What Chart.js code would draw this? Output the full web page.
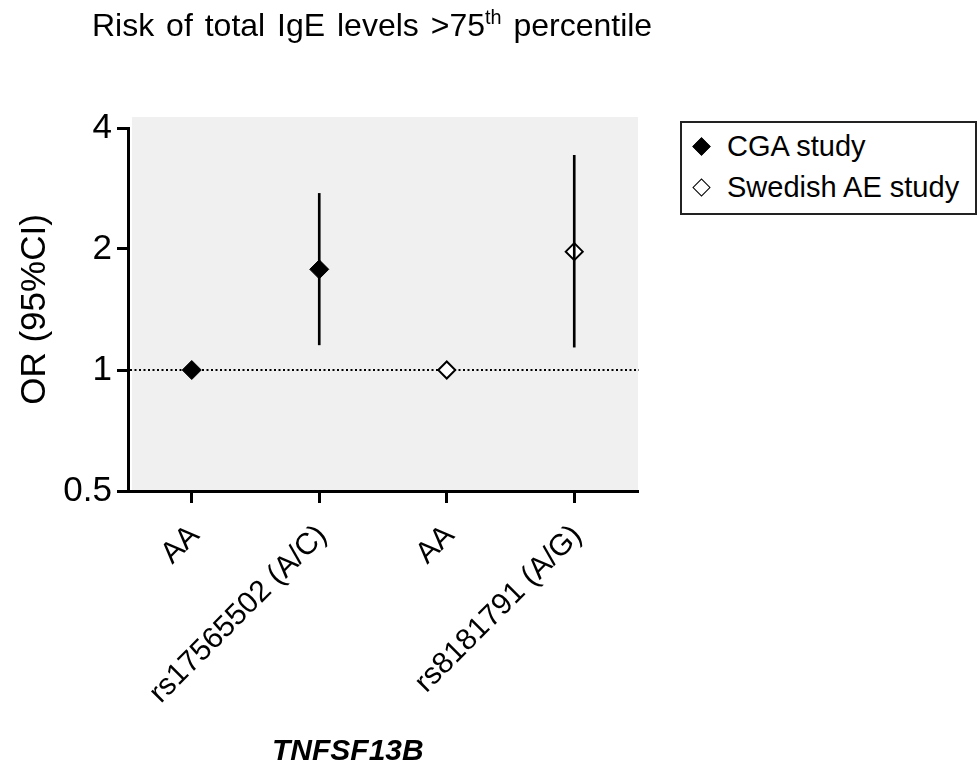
<!DOCTYPE html>
<html>
<head>
<meta charset="utf-8">
<title>TNFSF13B - risk of total IgE levels</title>
<script src="https://cdn.jsdelivr.net/npm/chart.js@4.4.0/dist/chart.umd.min.js"></script>
<style>
  body { margin: 0; background: #fff; font-family: "Liberation Sans", Arial, sans-serif; color: #000; }
  #wrap { position: relative; width: 979px; height: 765px; overflow: hidden; }
  #chart { position: absolute; left: 0; top: 0; }
  #title { position: absolute; left: 92px; top: 9px; font-size: 32px; line-height: 32px; word-spacing: 3px; white-space: nowrap; }
  #title sup { font-size: 0.62em; line-height: 0; vertical-align: 0.62em; }
  #legend { position: absolute; left: 680px; top: 121px; width: 293px; height: 90px; border: 2px solid #222; background: #fff; }
  .item { position: absolute; left: 45px; font-size: 29px; line-height: 29px; white-space: nowrap; }
  .mark { position: absolute; left: 13px; width: 13px; height: 13px; transform: rotate(45deg); box-sizing: border-box; }
  #xtitle { position: absolute; left: 272px; top: 735px; font-size: 30px; line-height: 30px; font-weight: bold; font-style: italic; white-space: nowrap; }
</style>
</head>
<body>
<div id="wrap">
  <canvas id="chart" width="979" height="765"></canvas>
  <div id="title">Risk of total IgE levels &gt;75<sup>th</sup> percentile</div>
  <div id="legend"></div>
  <div id="xtitle">TNFSF13B</div>
</div>
<script>
// === DATA ===
const categories = ["AA", "rs17565502 (A/C)", "AA", "rs8181791 (A/G)"];
const seriesNames = ["CGA study", "Swedish AE study"];

// odds ratios and 95% CI, one slot per category (null = not in that study)
const cgaOR   = [1.0, 1.78, null, null];
const cgaLow  = [null, 1.155, null, null];
const cgaHigh = [null, 2.75, null, null];

const sweOR   = [null, null, 1.0, 1.97];
const sweLow  = [null, null, null, 1.14];
const sweHigh = [null, null, null, 3.42];

const yTicks = [0.5, 1, 2, 4];
const refOR = 1;

const FONT = "'Liberation Sans', Arial, sans-serif";
Chart.defaults.font.family = FONT;
Chart.defaults.color = "#000";

const ciData = (low, high) => low.map((l, i) => (l == null ? null : [l, high[i]]));

// === PLOT BACKGROUND + REFERENCE LINE ===
const plotBg = {
  id: "plotBg",
  beforeDraw(chart) {
    const { ctx, chartArea: a } = chart;
    ctx.save();
    ctx.fillStyle = "#f0f0f0";
    ctx.fillRect(a.left + 4, a.top - 11, a.right - a.left - 4, a.bottom - a.top + 11);
    ctx.restore();
  },
  beforeDatasetsDraw(chart) {
    const { ctx, chartArea: a } = chart;
    const y = chart.scales.y.getPixelForValue(refOR);
    ctx.save();
    ctx.strokeStyle = "#000";
    ctx.lineWidth = 2;
    ctx.setLineDash([2, 2.5]);
    ctx.beginPath();
    ctx.moveTo(a.left + 2, y);
    ctx.lineTo(a.right + 1, y);
    ctx.stroke();
    ctx.restore();
  }
};

// === CHART ===
const ctx = document.getElementById("chart").getContext("2d");
new Chart(ctx, {
  type: "bar",
  data: {
    labels: categories,
    datasets: [
      {
        type: "bar", label: seriesNames[0] + " CI",
        data: ciData(cgaLow, cgaHigh),
        backgroundColor: "#000", barThickness: 2, grouped: false, order: 0
      },
      {
        type: "bar", label: seriesNames[1] + " CI",
        data: ciData(sweLow, sweHigh),
        backgroundColor: "#000", barThickness: 2, grouped: false, order: 0
      },
      {
        type: "line", label: seriesNames[0], data: cgaOR,
        showLine: false, pointStyle: "rectRot", pointRadius: 9.5,
        pointBackgroundColor: "#000", pointBorderColor: "#000", pointBorderWidth: 1, order: 1
      },
      {
        type: "line", label: seriesNames[1], data: sweOR,
        showLine: false, pointStyle: "rectRot", pointRadius: 8.5,
        pointBackgroundColor: "#fff", pointBorderColor: "#000", pointBorderWidth: 2, order: 1
      }
    ]
  },
  options: {
    responsive: false,
    animation: false,
    layout: { padding: { top: 128, right: 341, left: 0, bottom: 0 } },
    plugins: {
      legend: { display: false },
      tooltip: { enabled: false }
    },
    scales: {
      x: {
        type: "category",
        offset: true,
        grid: { offset: false, drawOnChartArea: false, tickLength: 12, tickWidth: 3, tickColor: "#000", color: "#000" },
        border: { color: "#000", width: 3 },
        ticks: { color: "#000", font: { size: 30 }, minRotation: 45, maxRotation: 45, autoSkip: false, padding: 15, labelOffset: 3 },
        afterFit: s => { s.height = 274; }
      },
      y: {
        type: "logarithmic",
        min: 0.5,
        max: 4,
        afterBuildTicks: s => { s.ticks = yTicks.map(v => ({ value: v })); },
        grid: { drawOnChartArea: false, tickLength: 11, tickWidth: 3, tickColor: "#000", color: "#000" },
        border: { color: "#000", width: 3 },
        ticks: { color: "#000", font: { size: 35 }, padding: 5, callback: v => String(v) },
        title: { display: true, text: "OR (95%CI)", color: "#000", font: { size: 35 }, padding: { top: 14, bottom: 0 } },
        afterFit: s => { s.width = 128; }
      }
    }
  },
  plugins: [plotBg]
});

// === LEGEND ===
const legend = document.getElementById("legend");
const marks = [
  { bg: "#000", border: "1px solid #000" },
  { bg: "#fff", border: "1.5px solid #000" }
];
seriesNames.forEach((name, i) => {
  const cy = 23 + i * 41;
  const m = document.createElement("span");
  m.className = "mark";
  m.style.top = (cy - 6.5) + "px";
  m.style.background = marks[i].bg;
  m.style.border = marks[i].border;
  legend.appendChild(m);
  const t = document.createElement("span");
  t.className = "item";
  t.style.top = (cy - 14.5) + "px";
  t.textContent = name;
  legend.appendChild(t);
});
</script>
</body>
</html>
